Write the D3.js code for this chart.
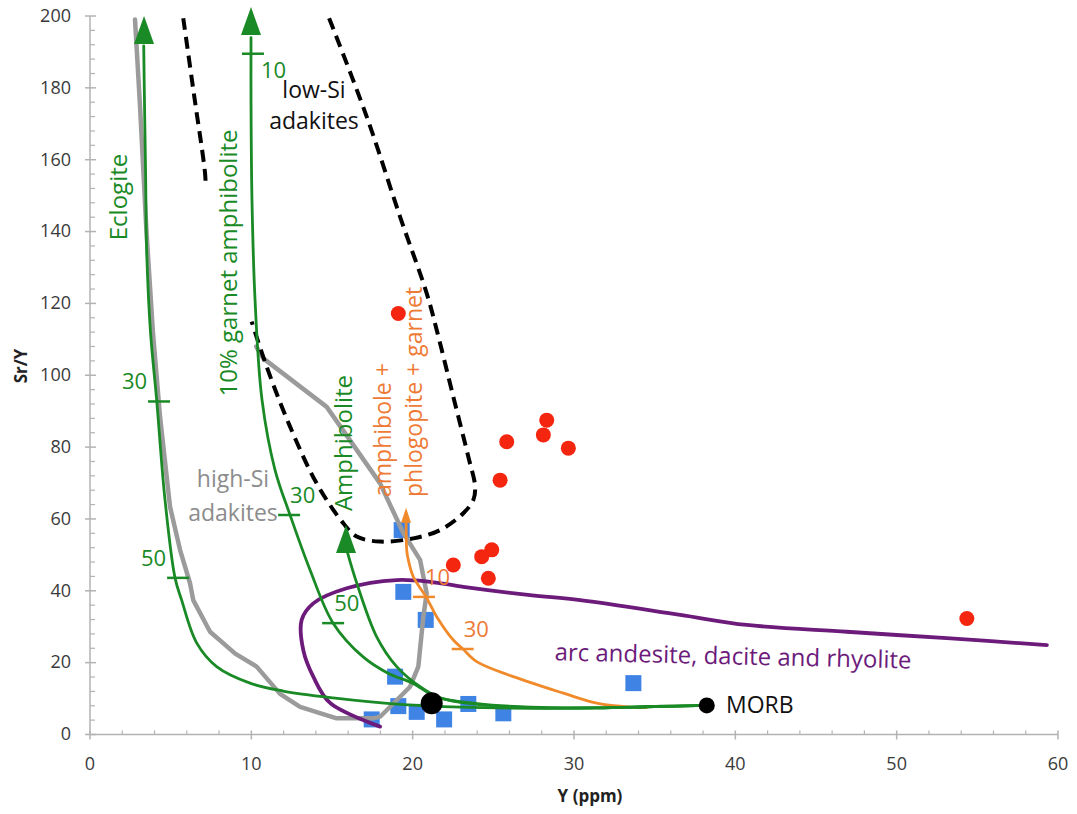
<!DOCTYPE html>
<html>
<head>
<meta charset="utf-8">
<script src="https://cdn.jsdelivr.net/npm/d3@7"></script>
<style>
  body { margin: 0; background: #fff; }
  text { font-family: "Open Sans", sans-serif; }
</style>
</head>
<body>
<svg id="chart" width="1077" height="814"></svg>
<script>
// axis ticks
const xTicks = [0, 10, 20, 30, 40, 50, 60];
const yTicks = [0, 20, 40, 60, 80, 100, 120, 140, 160, 180, 200];
const xMinor = [2, 4, 6, 8, 12, 14, 16, 18, 22, 24, 26, 28, 32, 34, 36, 38, 42, 44, 46, 48, 52, 54, 56, 58];
const yMinor = [4, 8, 12, 16, 24, 28, 32, 36, 44, 48, 52, 56, 64, 68, 72, 76, 84, 88, 92, 96,
  104, 108, 112, 116, 124, 128, 132, 136, 144, 148, 152, 156, 164, 168, 172, 176, 184, 188, 192, 196];

// melting curves  [Y ppm, Sr/Y]
const eclogite = [[3.33, 191.7], [3.38, 175], [3.45, 155], [3.51, 135], [3.75, 112], [4.13, 93.2],
  [4.65, 65.3], [5.27, 43.6], [5.68, 37.4], [6.61, 25.5], [7.85, 18.9], [9.92, 14.3], [11.97, 12.1],
  [15.06, 10.2], [19.2, 8.4], [23, 7.6], [27.3, 7.3], [31.4, 7.4], [35, 7.8], [38.23, 8.1]];
const garnetAmph = [[9.98, 194], [9.98, 176.6], [10.04, 148.8], [10.23, 121], [10.66, 93.2],
  [11.47, 73.6], [12.4, 61.1], [13.64, 45.8], [15.07, 31], [16.93, 21.6], [18.5, 17], [20.0, 14.3],
  [21.5, 10.4], [24, 8.6], [27.3, 7.6], [31.4, 7.4], [35, 7.8], [38.23, 8.1]];
const amphibolite = [[15.93, 51.1], [16.53, 42.2], [17.77, 27.2], [19.01, 18.9], [20.46, 13.3],
  [21.7, 10.2], [24, 8.4], [27.3, 7.5], [31.4, 7.4], [35, 7.8], [38.23, 8.1]];
const phlogopite = [[19.6, 59.2], [19.63, 51.4], [19.73, 48.6], [20.04, 43.9], [20.83, 38.3],
  [21.49, 32.8], [22.52, 26.3], [23.12, 23.8], [23.97, 20.3], [26.24, 16.1], [29.34, 11.5],
  [31.41, 8.7], [33.48, 7.6], [34.5, 7.5]];
const highSi = [[2.79, 199], [3.1, 175], [3.5, 140], [3.9, 112], [4.34, 88.5], [4.96, 63.4],
  [5.58, 51.4], [6.2, 42.1], [6.4, 37.4], [7.44, 28.6], [9.0, 22.5], [10.33, 18.9], [11.78, 11.3],
  [13.02, 7.7], [15.29, 4.5], [17.56, 4.5], [18.0, 5.0], [19.84, 13.3], [20.35, 18.9], [20.66, 32.8],
  [20.87, 39.3], [20.46, 48.6], [19.42, 56.1], [17.98, 69.9], [14.67, 91.2], [10.74, 104.7], [10.3, 108]];
const lowSiUpper = [[5.78, 199.4], [6.45, 178], [7.13, 156.3], [7.17, 152.5]];
const lowSi = [[14.82, 199.4], [17.15, 172], [19.22, 144.1], [20.87, 122.8], [21.49, 112.6],
  [22.52, 94], [23.45, 77.3], [23.87, 69], [23.76, 65.3], [23.14, 61.6], [21.7, 56.9], [20.04, 54.6],
  [17.98, 53.7], [16.53, 55.1], [15.7, 58.8], [14.05, 69.9], [12.4, 85.7], [10.95, 102.4], [10.02, 114.9]];
const arcVolcanics = [[17.98, 2.2], [14.88, 8.8], [13.84, 16.1], [13.22, 23.5], [13.12, 31.9],
  [13.84, 36.5], [15.91, 40.7], [19.01, 43], [21.08, 42.5], [23.14, 41.1], [27.28, 38.8],
  [30.38, 37.4], [36.58, 33.3], [40.71, 30.5], [46.91, 28.6], [53.11, 26.8], [59.31, 24.9]];

// arrow tips at the end of each curve
const arrowTips = [
  { x: 3.35, y: 200, color: 'green' },
  { x: 9.98, y: 202.5, color: 'green' },
  { x: 15.87, y: 58.3, color: 'green' },
  { x: 19.59, y: 63.1, color: 'orange' }
];

// % melting marks on curves
const meltTicks = [
  { x: 4.28, y: 92.7, label: '30', color: 'green', side: 'left' },
  { x: 5.46, y: 43.6, label: '50', color: 'green', side: 'left' },
  { x: 10.1, y: 189.5, label: '10', color: 'green', side: 'below' },
  { x: 12.34, y: 61.1, label: '30', color: 'green', side: 'right' },
  { x: 15.07, y: 31, label: '50', color: 'green', side: 'right' },
  { x: 20.7, y: 38.3, label: '10', color: 'orange', side: 'right' },
  { x: 23.1, y: 23.8, label: '30', color: 'orange', side: 'right' }
];

// samples
const redSamples = [[19.11, 117.2], [25.83, 81.5], [28.31, 87.5], [28.1, 83.4], [29.65, 79.7],
  [25.42, 70.8], [24.9, 51.4], [24.28, 49.5], [22.52, 47.2], [24.69, 43.5], [54.35, 32.3]];
const blueSamples = [[19.32, 56.9], [19.42, 39.7], [20.81, 31.9], [18.91, 16.1], [19.11, 7.9],
  [20.25, 6.3], [21.95, 4.2], [23.45, 8.5], [25.62, 5.9], [17.46, 4.2], [33.68, 14.3]];
const morb = [38.23, 8.1];
const bigDot = [21.18, 8.7];

const colors = {
  green: '#198a25', gray: '#9b9b9b', purple: '#6c1b7b', orange: '#f08a2a',
  orangeText: '#ee7a36', red: '#f5260f', blue: '#3f84e5', axis: '#b3b3b3', tickText: '#3a3a3a'
};

const svg = d3.select('#chart');
const x = d3.scaleLinear().domain([0, 60]).range([90, 1058]);
const y = d3.scaleLinear().domain([0, 200]).range([734.5, 16]);

// axes
const ax = svg.append('g').attr('class', 'axes');
ax.append('line').attr('x1', x(0)).attr('x2', x(60)).attr('y1', y(0)).attr('y2', y(0))
  .attr('stroke', colors.axis).attr('stroke-width', 1.5);
ax.append('line').attr('x1', x(0)).attr('x2', x(0)).attr('y1', y(0)).attr('y2', y(200))
  .attr('stroke', colors.axis).attr('stroke-width', 1.5);

ax.selectAll('.xmaj').data(xTicks).join('line').attr('class', 'xmaj')
  .attr('x1', d => x(d)).attr('x2', d => x(d)).attr('y1', y(0) - 4).attr('y2', y(0) + 5)
  .attr('stroke', colors.axis).attr('stroke-width', 1.5);
ax.selectAll('.xmin').data(xMinor).join('line').attr('class', 'xmin')
  .attr('x1', d => x(d)).attr('x2', d => x(d)).attr('y1', y(0) - 4).attr('y2', y(0))
  .attr('stroke', colors.axis).attr('stroke-width', 1.2);
ax.selectAll('.ymaj').data(yTicks).join('line').attr('class', 'ymaj')
  .attr('x1', x(0) - 5).attr('x2', x(0) + 6).attr('y1', d => y(d)).attr('y2', d => y(d))
  .attr('stroke', colors.axis).attr('stroke-width', 1.5);
ax.selectAll('.ymin').data(yMinor).join('line').attr('class', 'ymin')
  .attr('x1', x(0)).attr('x2', x(0) + 5).attr('y1', d => y(d)).attr('y2', d => y(d))
  .attr('stroke', colors.axis).attr('stroke-width', 1.2);

ax.selectAll('.xlab').data(xTicks).join('text').attr('class', 'xlab')
  .attr('x', d => x(d)).attr('y', y(0) + 31).attr('text-anchor', 'middle')
  .attr('dominant-baseline', 'middle').attr('font-size', 18).attr('fill', colors.tickText).text(d => d);
ax.selectAll('.ylab').data(yTicks).join('text').attr('class', 'ylab')
  .attr('x', x(0) - 19).attr('y', d => y(d) + 1).attr('text-anchor', 'end')
  .attr('dominant-baseline', 'middle').attr('font-size', 18).attr('fill', colors.tickText).text(d => d);

svg.append('text').attr('x', 590).attr('y', 797).attr('text-anchor', 'middle')
  .attr('dominant-baseline', 'middle').attr('font-size', 17).attr('font-weight', 'bold')
  .attr('fill', '#222').text('Y (ppm)');
svg.append('text').attr('transform', 'translate(22,366) rotate(-90)').attr('text-anchor', 'middle')
  .attr('dominant-baseline', 'middle').attr('font-size', 17).attr('font-weight', 'bold')
  .attr('fill', '#222').text('Sr/Y');

const smooth = d3.line().x(d => x(d[0])).y(d => y(d[1])).curve(d3.curveCatmullRom.alpha(0.5));
const straight = d3.line().x(d => x(d[0])).y(d => y(d[1]));

// blue squares under the lines
svg.selectAll('.blue').data(blueSamples).join('rect').attr('class', 'blue')
  .attr('x', d => x(d[0]) - 8).attr('y', d => y(d[1]) - 8).attr('width', 16).attr('height', 16)
  .attr('fill', colors.blue);

const lines = svg.append('g').attr('fill', 'none').attr('stroke-linejoin', 'round').attr('stroke-linecap', 'round');
lines.append('path').attr('d', straight(highSi)).attr('stroke', colors.gray).attr('stroke-width', 4.5);
lines.append('path').attr('d', smooth(lowSiUpper)).attr('stroke', '#000').attr('stroke-width', 4)
  .attr('stroke-dasharray', '12 7').attr('stroke-linecap', 'butt');
lines.append('path').attr('d', smooth(lowSi)).attr('stroke', '#000').attr('stroke-width', 4)
  .attr('stroke-dasharray', '12 7').attr('stroke-linecap', 'butt');
lines.append('path').attr('d', smooth(arcVolcanics)).attr('stroke', colors.purple).attr('stroke-width', 3.8);
lines.append('path').attr('d', smooth(phlogopite)).attr('stroke', colors.orange).attr('stroke-width', 2.8);
[eclogite, garnetAmph, amphibolite].forEach(c => {
  lines.append('path').attr('d', smooth(c)).attr('stroke', colors.green).attr('stroke-width', 2.8);
});

// arrow heads
svg.selectAll('.arrow').data(arrowTips).join('path').attr('class', 'arrow')
  .attr('d', d => {
    const w = d.color === 'green' ? 10 : 5;
    const h = d.color === 'green' ? 28 : 15;
    const px = x(d.x), py = y(d.y);
    return `M${px},${py}L${px - w},${py + h}L${px + w},${py + h}Z`;
  })
  .attr('fill', d => colors[d.color]);

// melt percentage ticks
svg.selectAll('.mtick').data(meltTicks).join('line').attr('class', 'mtick')
  .attr('x1', d => x(d.x) - 11).attr('x2', d => x(d.x) + 11)
  .attr('y1', d => y(d.y)).attr('y2', d => y(d.y))
  .attr('stroke', d => colors[d.color]).attr('stroke-width', 2.5);
svg.selectAll('.mlab').data(meltTicks).join('text').attr('class', 'mlab')
  .attr('x', d => d.side === 'left' ? x(d.x) - 12 : x(d.x) + (d.side === 'below' ? 8 : 1))
  .attr('y', d => y(d.y) + (d.side === 'below' ? 18 : -18))
  .attr('text-anchor', d => d.side === 'left' ? 'end' : 'start')
  .attr('dominant-baseline', 'middle').attr('font-size', 22)
  .attr('fill', d => d.color === 'green' ? colors.green : colors.orangeText)
  .text(d => d.label);

// red samples
svg.selectAll('.red').data(redSamples).join('circle').attr('class', 'red')
  .attr('cx', d => x(d[0])).attr('cy', d => y(d[1])).attr('r', 7.5).attr('fill', colors.red);

svg.append('circle').attr('cx', x(bigDot[0])).attr('cy', y(bigDot[1])).attr('r', 11).attr('fill', '#000');
svg.append('circle').attr('cx', x(morb[0])).attr('cy', y(morb[1])).attr('r', 8).attr('fill', '#000');

// annotations
const note = (txt, px, py, color, size, rot, anchor) => {
  svg.append('text').attr('transform', `translate(${px},${py}) rotate(${rot})`)
    .attr('text-anchor', anchor || 'middle').attr('dominant-baseline', 'middle')
    .attr('font-size', size).attr('fill', color).text(txt);
};
note('Eclogite', 121, 197, colors.green, 24, -90);
note('10% garnet amphibolite', 231, 263, colors.green, 24, -90);
note('Amphibolite', 346, 443, colors.green, 24, -90);
note('amphibole +', 385, 497, colors.orangeText, 23, -90, 'start');
note('phlogopite + garnet', 416, 497, colors.orangeText, 23, -90, 'start');
note('low-Si', 314, 92, '#111', 23, 0);
note('adakites', 314, 123, '#111', 23, 0);
note('high-Si', 233, 481, '#8c8c8c', 23, 0);
note('adakites', 233, 515, '#8c8c8c', 23, 0);
note('arc andesite, dacite and rhyolite', 733, 658, colors.purple, 24, 1.3);
note('MORB', 726, 707, '#111', 23, 0, 'start');
</script>
</body>
</html>
